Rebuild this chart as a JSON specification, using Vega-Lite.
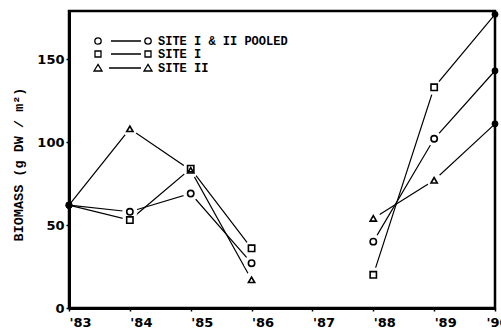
{
  "$schema": "https://vega.github.io/schema/vega-lite/v6.json",
  "width": 426,
  "height": 297,
  "autosize": {"type": "none"},
  "padding": {"left": 69, "top": 11, "right": 6, "bottom": 21},
  "background": "white",
  "config": {
    "view": {"stroke": "black", "strokeWidth": 2.5},
    "axis": {
      "grid": false,
      "domainColor": "black",
      "domainWidth": 3,
      "tickColor": "black",
      "tickWidth": 1.5,
      "labelColor": "black",
      "labelFont": "DejaVu Sans",
      "labelFontWeight": "bold",
      "labelFontSize": 13
    }
  },
  "data": {
    "values": [
      {"series": "SITE I & II POOLED", "year": 1983, "biomass": 62},
      {"series": "SITE I & II POOLED", "year": 1984, "biomass": 58},
      {"series": "SITE I & II POOLED", "year": 1985, "biomass": 69},
      {"series": "SITE I & II POOLED", "year": 1986, "biomass": 27},
      {"series": "SITE I & II POOLED", "year": 1988, "biomass": 40},
      {"series": "SITE I & II POOLED", "year": 1989, "biomass": 102},
      {"series": "SITE I & II POOLED", "year": 1990, "biomass": 143},
      {"series": "SITE I", "year": 1983, "biomass": 62},
      {"series": "SITE I", "year": 1984, "biomass": 53},
      {"series": "SITE I", "year": 1985, "biomass": 84},
      {"series": "SITE I", "year": 1986, "biomass": 36},
      {"series": "SITE I", "year": 1988, "biomass": 20},
      {"series": "SITE I", "year": 1989, "biomass": 133},
      {"series": "SITE I", "year": 1990, "biomass": 177},
      {"series": "SITE II", "year": 1983, "biomass": 62},
      {"series": "SITE II", "year": 1984, "biomass": 108},
      {"series": "SITE II", "year": 1985, "biomass": 83},
      {"series": "SITE II", "year": 1986, "biomass": 17},
      {"series": "SITE II", "year": 1988, "biomass": 54},
      {"series": "SITE II", "year": 1989, "biomass": 77},
      {"series": "SITE II", "year": 1990, "biomass": 111}
    ]
  },
  "encoding": {
    "x": {
      "field": "year",
      "type": "quantitative",
      "scale": {"domain": [1983, 1990], "nice": false, "zero": false},
      "axis": {
        "values": [1983, 1984, 1985, 1986, 1987, 1988, 1989, 1990],
        "labelExpr": "\"'\" + substring(toString(datum.value), 2, 4)",
        "labelAlign": "left",
        "labelDx": -2,
        "labelOffset": {"condition": {"test": "datum.value == 1990", "value": -9}, "value": 0},
        "labelFlush": false,
        "labelOverlap": false,
        "tickSize": 3,
        "labelPadding": 5,
        "title": null
      }
    },
    "y": {
      "field": "biomass",
      "type": "quantitative",
      "scale": {"domain": [0, 179], "nice": false},
      "axis": {
        "values": [0, 50, 100, 150],
        "tickSize": 3,
        "labelPadding": 2,
        "labelFlush": false,
        "title": "BIOMASS (g DW / m²)",
        "titleFont": "Liberation Mono",
        "titleFontSize": 13.5,
        "titleFontWeight": "bold",
        "titleColor": "black",
        "titleAngle": -90,
        "titleX": -51,
        "titleY": 153,
        "titleBaseline": "middle",
        "titleAlign": "center"
      }
    }
  },
  "layer": [
    {
      "transform": [{"calculate": "datum.year < 1987 ? 'early' : 'late'", "as": "seg"}],
      "mark": {"type": "line", "color": "black", "strokeWidth": 1.2},
      "encoding": {"detail": [{"field": "series"}, {"field": "seg"}]}
    },
    {
      "transform": [{"filter": "datum.year > 1983 && datum.year < 1990"}],
      "mark": {"type": "point", "filled": true, "color": "white", "opacity": 1, "shape": "circle", "size": 230}
    },
    {
      "transform": [{"filter": "datum.year > 1983 && datum.year < 1990"}],
      "mark": {"type": "point", "filled": false, "color": "black", "opacity": 1, "strokeWidth": 1.6, "size": 40},
      "encoding": {
        "shape": {
          "field": "series",
          "type": "nominal",
          "scale": {"domain": ["SITE I & II POOLED", "SITE I", "SITE II"], "range": ["circle", "square", "triangle-up"]},
          "legend": null
        }
      }
    },
    {
      "transform": [{"filter": "datum.year == 1983 || datum.year == 1990"}],
      "mark": {"type": "circle", "color": "black", "opacity": 1, "size": 45}
    },
    {
      "mark": {"type": "point", "filled": false, "color": "black", "opacity": 0, "size": 64, "strokeWidth": 1.3},
      "encoding": {
        "shape": {
          "field": "series",
          "type": "nominal",
          "scale": {
            "domain": ["SITE I & II POOLED", "SITE I", "SITE II"],
            "range": [
              "M0.8,0 A0.8,0.8 0 1,1 -0.8,0 A0.8,0.8 0 1,1 0.8,0 Z M-1.75,0 L-9.25,0 M-11.7,0 A0.8,0.8 0 1,1 -13.3,0 A0.8,0.8 0 1,1 -11.7,0 Z",
              "M-0.75,-0.75 H0.75 V0.75 H-0.75 Z M-1.75,0 L-9.25,0 M-13.25,-0.75 H-11.75 V0.75 H-13.25 Z",
              "M0,-0.9 L1,0.75 L-1,0.75 Z M-1.75,0 L-9.75,0 M-12.5,-0.9 L-11.5,0.75 L-13.5,0.75 Z"
            ]
          },
          "legend": {
            "title": null,
            "orient": "none",
            "legendX": 73,
            "legendY": 24,
            "padding": 0,
            "labelFont": "Liberation Mono",
            "labelFontWeight": "bold",
            "labelFontSize": 12,
            "labelColor": "black",
            "labelOffset": 4,
            "labelLimit": 300,
            "rowPadding": 1,
            "symbolSize": 64,
            "symbolOpacity": 1,
            "symbolStrokeColor": "black",
            "symbolFillColor": "transparent",
            "symbolStrokeWidth": 1.3
          }
        }
      }
    }
  ],
  "resolve": {"scale": {"shape": "independent"}, "legend": {"shape": "independent"}}
}
